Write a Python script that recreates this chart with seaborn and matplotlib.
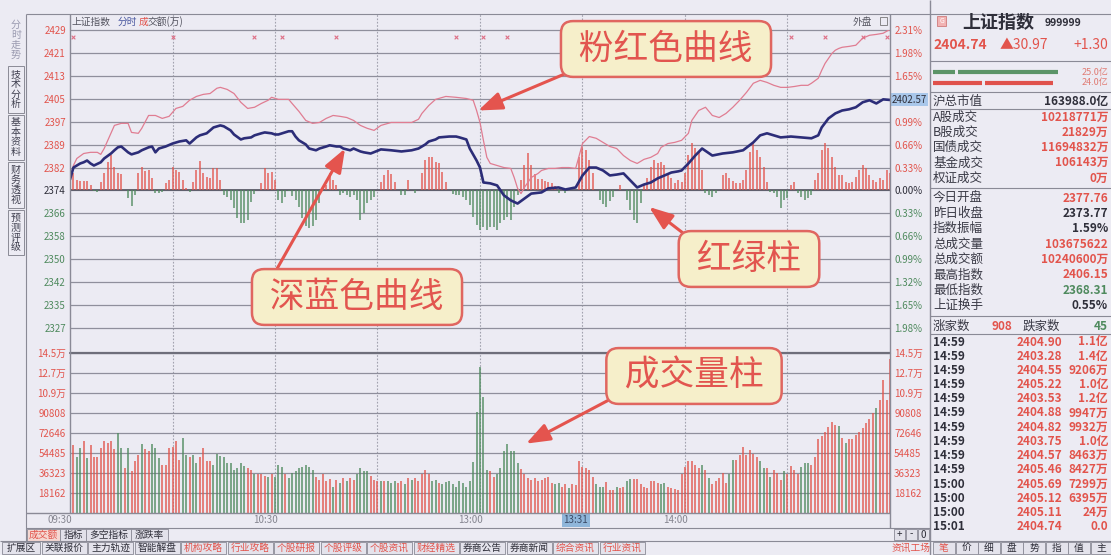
import pandas as pd
import matplotlib
matplotlib.use("Agg")
import matplotlib.pyplot as plt
from matplotlib.patches import Rectangle
from matplotlib.transforms import ScaledTranslation, blended_transform_factory
import seaborn as sns

# 1. 数据
prev_close = 2373.77
pct_step = 0.0033
price_steps = list(range(-6, 8))
vol_axis_max = 145293
vol_steps = 8

# 深蓝色曲线 (加权指数)
blue_min = [0, 1, 2, 3, 4, 5, 6, 7, 9, 10, 12, 13, 14, 15, 17, 18, 20, 21, 23, 24, 25, 26, 28, 30,
            32, 34, 35, 37, 38, 40, 41, 42, 44, 45, 47, 48, 50, 51, 53, 54, 56, 57, 59, 60, 61, 64,
            65, 66, 67, 69, 70, 72, 73, 75, 76, 78, 79, 80, 82, 83, 85, 86, 88, 91, 94, 97, 100,
            102, 104, 105, 107, 108, 111, 113, 114, 116, 117, 119, 120, 121, 123, 125, 127, 129,
            131, 133, 135, 138, 140, 143, 145, 148, 150, 152, 154, 156, 158, 160, 162, 164, 166,
            168, 170, 172, 174, 176, 178, 179, 181, 183, 185, 188, 191, 194, 197, 200, 202, 204,
            206, 208, 211, 214, 217, 219, 220, 222, 224, 226, 228, 230, 232, 234, 236, 238, 240]
blue_val = [2377.5, 2381.6, 2382.3, 2383.0, 2383.4, 2384.0, 2383.0, 2382.3, 2383.4, 2384.7, 2386.4,
            2387.5, 2388.5, 2388.8, 2386.8, 2386.1, 2386.8, 2387.5, 2388.5, 2388.8, 2386.8, 2388.1,
            2388.8, 2389.8, 2390.5, 2390.9, 2389.8, 2391.9, 2392.6, 2393.3, 2394.3, 2395.3, 2396.0,
            2395.7, 2394.3, 2392.9, 2391.2, 2391.6, 2391.9, 2392.6, 2393.3, 2393.6, 2393.3, 2392.9,
            2392.9, 2394.0, 2394.0, 2392.2, 2390.9, 2389.5, 2388.1, 2387.5, 2388.1, 2388.8, 2389.2,
            2388.8, 2388.8, 2388.1, 2387.5, 2388.1, 2387.1, 2386.8, 2386.4, 2387.8, 2387.5, 2387.1,
            2387.5, 2388.1, 2389.5, 2390.5, 2391.2, 2391.9, 2392.2, 2392.2, 2391.9, 2391.2, 2388.1,
            2384.0, 2381.6, 2376.5, 2376.2, 2375.5, 2372.1, 2370.4, 2369.3, 2371.0, 2372.7, 2373.1,
            2374.5, 2374.8, 2374.1, 2374.8, 2378.9, 2381.6, 2381.6, 2380.6, 2378.9, 2379.2, 2379.6,
            2377.2, 2374.8, 2375.8, 2376.5, 2377.9, 2378.9, 2379.9, 2380.3, 2380.6, 2383.0, 2385.7,
            2388.1, 2385.7, 2386.4, 2386.8, 2387.5, 2390.2, 2392.6, 2393.3, 2392.6, 2391.9, 2392.2,
            2391.9, 2391.6, 2392.6, 2395.3, 2398.4, 2400.1, 2401.1, 2401.5, 2402.2, 2403.9, 2404.6,
            2403.5, 2404.9, 2404.7]

# 粉红色曲线 (不含加权指数)
pink_min = [0, 1, 2, 4, 6, 8, 9, 10, 13, 15, 17, 18, 20, 21, 23, 25, 27, 29, 31, 33, 35, 37, 39, 41,
            43, 44, 46, 48, 50, 52, 54, 56, 58, 59, 61, 64, 65, 67, 69, 71, 73, 75, 77, 79, 81, 83,
            85, 87, 89, 91, 94, 97, 100, 102, 103, 105, 107, 110, 113, 116, 118, 119, 120, 121,
            122, 123, 125, 127, 129, 130, 131, 132, 133, 135, 137, 138, 140, 142, 144, 146, 148,
            150, 152, 154, 156, 158, 160, 162, 164, 166, 168, 170, 172, 173, 175, 177, 179, 181,
            182, 184, 186, 188, 190, 192, 194, 196, 198, 200, 202, 204, 206, 208, 210, 212, 214,
            216, 217, 219, 220, 221, 222, 223, 224, 225, 226, 228, 230, 232, 234, 236, 238, 240]
pink_val = [2377.5, 2382.3, 2384.7, 2386.4, 2386.8, 2386.8, 2386.1, 2388.1, 2396.0, 2396.7, 2396.7,
            2393.6, 2393.3, 2395.0, 2399.4, 2399.4, 2398.4, 2399.1, 2401.8, 2402.5, 2404.6, 2405.9,
            2406.6, 2406.9, 2408.7, 2409.0, 2408.3, 2406.9, 2403.9, 2401.8, 2402.2, 2403.5, 2404.6,
            2405.6, 2404.9, 2404.9, 2403.5, 2400.8, 2397.7, 2396.7, 2397.0, 2398.4, 2399.4, 2399.1,
            2398.7, 2397.7, 2396.0, 2395.0, 2394.3, 2396.0, 2397.0, 2397.0, 2397.0, 2398.1, 2400.1,
            2402.8, 2404.9, 2405.9, 2405.6, 2405.2, 2404.6, 2401.1, 2397.0, 2390.9, 2385.1, 2383.0,
            2382.3, 2381.6, 2381.3, 2378.2, 2374.5, 2372.7, 2374.8, 2378.2, 2379.6, 2380.6, 2381.3,
            2381.3, 2381.6, 2381.6, 2381.3, 2389.8, 2392.2, 2391.6, 2390.2, 2388.8, 2388.1, 2385.7,
            2384.0, 2383.0, 2384.4, 2385.1, 2386.4, 2388.5, 2389.8, 2390.2, 2390.9, 2393.3, 2397.7,
            2401.1, 2402.2, 2399.4, 2398.7, 2400.1, 2402.2, 2404.6, 2407.3, 2410.4, 2411.4, 2410.7,
            2409.7, 2409.0, 2409.0, 2409.3, 2409.7, 2409.7, 2410.4, 2412.1, 2414.8, 2417.2, 2418.9,
            2420.6, 2421.7, 2422.3, 2422.7, 2423.0, 2423.4, 2425.8, 2426.8, 2427.1, 2427.5, 2428.8]

# 红绿柱 (每分钟一根, 单位 = RG_UNIT 点)
RG_UNIT = 0.342
rg_units = [15, 17, 10, 9, 9, 9, 5, -1, -2, 8,
            17, 28, 35, 23, 17, 16, 0, -8, -16, -5,
            17, 23, 19, 20, 12, -3, -3, -2, 7, 10,
            23, 20, 18, 10, 2, -2, 8, 20, 29, 17,
            13, 12, 22, 22, 10, -5, -7, -10, -18, -28,
            -33, -33, -30, -12, -4, 0, 7, 22, 17, 18,
            10, -10, -13, -7, -1, -6, -10, -17, -28, -36,
            -38, -36, -30, -13, 0, 5, 17, 10, 5, -5,
            -3, -5, -7, -5, -10, -30, -23, -13, -10, -7,
            0, 8, 15, 20, 16, 8, 0, -5, -5, 10,
            0, -3, 0, 17, 30, 33, 33, 28, 27, 18,
            8, 0, -4, -5, -5, -7, -10, -15, -27, -35,
            -40, -37, -40, -37, -37, -40, -33, -30, -27, -30,
            -17, -5, 10, 25, 37, 25, 16, 11, 11, 9,
            8, 7, 4, -3, 2, -3, 2, 0, 0, 33,
            43, 40, 30, 17, 0, -10, -14, -17, -11, -7,
            0, 5, 0, -10, -20, -30, -33, -13, 5, 12,
            23, 30, 27, 28, 25, 17, 12, 7, 10, 8,
            17, 35, 47, 42, 38, 20, -3, -5, -7, -3,
            0, 15, 17, 12, 9, 7, 7, 10, 20, 38,
            47, 40, 33, 23, 8, -2, -3, -7, -18, -10,
            -8, 5, 8, -3, -7, -10, -8, -5, 10, 17,
            40, 47, 42, 33, 23, 15, 15, 8, 7, 8,
            13, 20, 25, 22, 15, 10, 8, 12, 10, 20, 17]

# 成交量柱 (千)
vol_k = [98, 62, 51, 59, 65, 50, 62, 51, 51, 59,
         65, 64, 65, 58, 73, 59, 41, 59, 38, 47,
         53, 63, 58, 56, 63, 59, 50, 44, 44, 59,
         60, 65, 48, 68, 53, 51, 53, 45, 51, 59,
         47, 47, 44, 54, 52, 51, 45, 45, 39, 41,
         45, 43, 41, 39, 35, 35, 35, 34, 33, 35,
         33, 44, 42, 35, 32, 36, 38, 41, 42, 44,
         42, 39, 33, 30, 35, 29, 31, 24, 30, 27,
         32, 29, 32, 30, 35, 41, 38, 38, 34, 30,
         29, 29, 29, 29, 27, 29, 27, 29, 26, 32,
         30, 32, 29, 35, 39, 35, 29, 30, 27, 26,
         28, 29, 26, 24, 29, 27, 24, 29, 46, 92,
         133, 105, 39, 38, 33, 35, 41, 56, 63, 56,
         56, 45, 40, 35, 32, 30, 32, 29, 30, 32,
         33, 27,
         26, 27, 24, 26, 23, 26, 25, 47, 42, 41,
         39, 33, 26, 24, 24, 28, 21, 21, 24, 23,
         24, 29, 31, 31, 31, 26, 24, 23, 29, 29,
         27, 26, 27, 24, 23, 22, 21, 35, 42, 47,
         47, 44, 41, 44, 39, 32, 26, 29, 32, 36,
         27, 35, 48, 48, 53, 60, 53, 57, 54, 51,
         47, 41, 41, 33, 39, 36, 30, 38, 35, 43,
         39, 35, 42, 45, 45, 44, 51, 67, 70, 74,
         78, 83, 80, 79, 68, 64, 67, 67, 71, 74,
         77, 82, 85, 91, 95, 103, 121, 103, 140]
vol_dir = ("rrggrgrrrr" "rrrrggrgrr" "rgrrgggrrr" "rrrggrggrr" "rrgggggggg"
           "ggrrgrrrgr" "gggrgggggg" "ggrrrrrgrg" "rgrrggggrr" "rgrgggrrgr"
           "grrrrrggrg" "gggggggggg" "gggrrggggg" "ggrrrrrrrr" "rr"
           "ggrrgrrrrr" "rrgggrrrgr" "rggrrrrrrr" "rggrrrrrrr" "rrrgrgrrrr"
           "rggrrrrrrr" "ggrgrrrgrr" "rrgggrrrrr" "rrrgrgrrrr" "rrrrgrrrr")

event_min = [1, 30, 54, 62, 78, 113, 121, 128, 211, 221, 232, 239]
time_ticks = [0, 60, 120, 180]
time_labels = ["09:30", "10:30", "13:00", "14:00"]
cursor_min, cursor_label = 151, "13:31"
cursor_price_label = "2402.57"

# 右侧行情栏
index_name, index_code = "上证指数", "999999"
index_last, index_chg, index_chg_pct = "2404.74", "▲30.97", "+1.30"
outer_vol, inner_vol = 25.0, 24.0
mkt_label, mkt_value = "沪总市值", "163988.0亿"
turnover_labels = ["A股成交", "B股成交", "国债成交", "基金成交", "权证成交"]
turnover_values = ["10218771万", "21829万", "11694832万", "106143万", "0万"]
stat_labels = ["今日开盘", "昨日收盘", "指数振幅", "总成交量", "总成交额", "最高指数", "最低指数", "上证换手"]
stat_values = ["2377.76", "2373.77", "1.59%", "103675622", "10240600万", "2406.15", "2368.31", "0.55%"]
stat_tone = ["r", "k", "k", "r", "r", "r", "g", "k"]
up_count, down_count = "908", "45"
tick_times = ["14:59"] * 10 + ["15:00"] * 3 + ["15:01"]
tick_prices = ["2404.90", "2403.28", "2404.55", "2405.22", "2403.53", "2404.88", "2404.82",
               "2403.75", "2404.57", "2405.46", "2405.69", "2405.12", "2405.11", "2404.74"]
tick_vols = ["1.1亿", "1.4亿", "9206万", "1.0亿", "1.2亿", "9947万", "9932万",
             "1.0亿", "8463万", "8427万", "7299万", "6395万", "24万", "0.0"]

left_tabs = ["分时走势", "技术分析", "基本资料", "财务透视", "预测评级"]
sub_tabs = ["成交额", "指标", "多空指标", "涨跌率"]
bottom_tabs = ["扩展区", "关联报价", "主力轨迹", "智能解盘", "机构攻略", "行业攻略", "个股研报",
               "个股评级", "个股资讯", "财经精选", "券商公告", "券商新闻", "综合资讯", "行业资讯"]
bottom_tab_red = [False, False, False, False, True, True, True, True, True, True, False, False, True, True]
side_tabs = ["笔", "价", "细", "盘", "势", "指", "值", "主"]

# 2. 样式
sns.set_theme(style="white")
plt.rcParams["font.family"] = ["Noto Sans CJK SC", "DejaVu Sans"]
plt.rcParams["axes.unicode_minus"] = False

W, H = 1111, 555
BG = "#ecebf3"
RED = "#e2544c"
GREEN = "#4f8a5e"
DARK = "#2f2f3a"
GRID = "#8f8f9c"
FRAME = "#8a8a96"
BLUE = "#2c2d78"
PINK = "#e07d92"
TONE = {"r": RED, "g": GREEN, "k": DARK}

fig = plt.figure(figsize=(W / 100, H / 100), dpi=100, facecolor=BG)


def box(l, t, r, b):
    return [l / W, 1 - b / H, (r - l) / W, (b - t) / H]


X0, X1 = 70, 890
bg = fig.add_axes(box(X0, 14, X1, 513), zorder=-1)
ax_p = fig.add_axes(box(X0, 30, X1, 328))
ax_v = fig.add_axes(box(X0, 353, X1, 513))
ov = fig.add_axes([0, 0, 1, 1], zorder=10)
ov.set_xlim(0, W)
ov.set_ylim(H, 0)
ov.axis("off")
for a in (bg, ax_p, ax_v):
    a.set_facecolor("none")
    a.set_xlim(0, 240)

# 竖向网格 (每半小时)
bg.axis("off")
bg.vlines(list(range(30, 240, 30)), 0, 1, transform=bg.get_xaxis_transform(),
          colors="#a2a2ae", lw=0.8, linestyles=(0, (1.5, 1.5)))

# 3. 分时图
levels = [prev_close * (1 + pct_step * k) for k in price_steps]
ax_p.set_ylim(levels[0], levels[-1])

minutes = list(range(len(rg_units)))
rg_df = pd.DataFrame({"minute": minutes, "h": [u * RG_UNIT for u in rg_units]})
ax_p.vlines(rg_df["minute"], prev_close, prev_close + rg_df["h"],
            colors=[RED if h > 0 else GREEN for h in rg_df["h"]], lw=1.1, alpha=0.9)

df_pink = pd.DataFrame({"minute": pink_min, "price": pink_val})
df_blue = pd.DataFrame({"minute": blue_min, "price": blue_val})
sns.lineplot(data=df_pink, x="minute", y="price", ax=ax_p, color=PINK, linewidth=0.9, estimator=None)
sns.lineplot(data=df_blue, x="minute", y="price", ax=ax_p, color=BLUE, linewidth=1.9, estimator=None)
step_price = prev_close * pct_step
sns.scatterplot(x=event_min, y=[levels[-1] - 0.3 * step_price] * len(event_min), ax=ax_p,
                marker="x", s=7, color="#df6f86", linewidth=0.8, zorder=3)

ax_p.set_xlabel("")
ax_p.set_ylabel("")
ax_p.set_xticks([])
ax_p.set_yticks(levels)
ax_p.set_yticklabels([f"{v:.0f}" for v in levels])
ax_p.tick_params(axis="y", length=0, pad=3, labelsize=7)
ax_p.grid(axis="y", color=GRID, lw=0.9)
ax_p.set_axisbelow(True)
ax_p.axhline(prev_close, color="#5c5c68", lw=1.3, zorder=1)
for lbl, k in zip(ax_p.get_yticklabels(), price_steps):
    lbl.set_color(RED if k > 0 else (DARK if k == 0 else GREEN))

# 右侧百分比刻度; 光标价格标签盖住的那一格不显示
tag_idx = min(range(len(levels)), key=lambda i: abs(levels[i] - blue_val[-1]))
pct_text = [f"{abs(k) * pct_step * 100:.2f}%" for k in price_steps]
pct_text[tag_idx] = ""
ax_pr = ax_p.twinx()
ax_pr.set_ylim(ax_p.get_ylim())
ax_pr.set_yticks(levels)
ax_pr.set_yticklabels(pct_text)
ax_pr.tick_params(axis="y", length=0, pad=3, labelsize=7)
for lbl, k in zip(ax_pr.get_yticklabels(), price_steps):
    lbl.set_color(RED if k > 0 else (DARK if k == 0 else GREEN))
for a in (ax_p, ax_pr):
    for s in a.spines.values():
        s.set_visible(False)
for gl in ax_p.get_ygridlines():
    gl.set_clip_on(False)

ax_pr.text(1.002, blue_val[-1], cursor_price_label,
           transform=blended_transform_factory(ax_pr.transAxes, ax_pr.transData),
           ha="left", va="center", fontsize=7, color=DARK,
           bbox=dict(boxstyle="square,pad=0.15", fc="#a9c7ea", ec="none"))

# 4. 成交量
vol_step = vol_axis_max / vol_steps
vol_levels = [vol_step * i for i in range(1, vol_steps + 1)]
vols = [v * 1000 for v in vol_k]
ax_v.set_ylim(0, vol_axis_max)
ax_v.vlines(list(range(len(vols))), 0, vols, colors=[RED if c == "r" else GREEN for c in vol_dir],
            lw=1.2, alpha=0.85)
vol_text = [f"{v / 10000:.1f}万" if v >= 100000 else f"{v:.0f}" for v in vol_levels]
ax_v.set_yticks(vol_levels)
ax_v.set_yticklabels(vol_text)
ax_v.set_xticks([])
ax_v.tick_params(axis="y", length=0, pad=3, labelsize=7, labelcolor=RED)
ax_v.grid(axis="y", color=GRID, lw=0.9)
for gl in ax_v.get_ygridlines():
    gl.set_clip_on(False)
ax_vr = ax_v.twinx()
ax_vr.set_ylim(0, vol_axis_max)
ax_vr.set_yticks(vol_levels)
ax_vr.set_yticklabels(vol_text)
ax_vr.tick_params(axis="y", length=0, pad=3, labelsize=7, labelcolor=RED)
for a in (ax_v, ax_vr):
    for s in a.spines.values():
        s.set_visible(False)
ax_v.axhline(vol_axis_max, color="#6e6e7a", lw=1.6, clip_on=False)

# 时间轴
shift = ScaledTranslation(-10 / 100, 0, fig.dpi_scale_trans)
t_tr = blended_transform_factory(ax_v.transData, ax_v.transAxes) + shift
for m, lab in zip(time_ticks, time_labels):
    ax_v.text(m, -0.045, lab, transform=t_tr, ha="center", va="center", fontsize=7, color="#858590")
ax_v.text(cursor_min, -0.045, cursor_label, transform=t_tr, ha="center", va="center", fontsize=7,
          color="#3a4a66", bbox=dict(boxstyle="square,pad=0.2", fc="#8fb6da", ec="none"))


# 5. 界面框架
def hl(y, x0, x1, c=FRAME, lw=0.8):
    ov.plot([x0, x1], [y, y], color=c, lw=lw, solid_capstyle="butt")


def vl(x, y0, y1, c=FRAME, lw=0.8):
    ov.plot([x, x], [y0, y1], color=c, lw=lw, solid_capstyle="butt")


def txt(x, y, s, **kw):
    kw.setdefault("va", "center")
    ov.text(x, y, s, **kw)


hl(14, 26, 1111)
hl(513, 26, 890, lw=1.0)
hl(528, 26, 930)
hl(541, 0, 1111)
vl(26, 14, 541)
vl(X0, 14, 513, lw=1.0)
vl(X1, 14, 528, lw=1.0)
vl(930, 0, 555, lw=1.0)

# 标题行
txt(72, 22, "上证指数", fontsize=7, color="#555560")
txt(118, 22, "分时", fontsize=7, color="#4a58a0")
txt(139, 22, "成", fontsize=7, color=RED)
txt(148, 22, "交额(万)", fontsize=7, color="#555560")
txt(853, 22, "外盘", fontsize=7, color="#555560")
ov.add_patch(Rectangle((880, 17), 7, 8, fc="none", ec="#777", lw=0.6))

# 左侧竖向标签
tab_y = [(16, 64), (66, 113), (115, 160), (162, 208), (210, 255)]
for i, (name, (t, b)) in enumerate(zip(left_tabs, tab_y)):
    if i > 0:
        ov.add_patch(Rectangle((8, t), 16, b - t, fc="none", ec="#8a8a96", lw=0.7))
    txt(16, (t + b) / 2, "\n".join(name), ha="center", fontsize=7.2, linespacing=1.0,
        color="#9a9ab0" if i == 0 else "#404050")

# 副图标签
sub_x = [(27, 60), (60, 86), (86, 131), (131, 168)]
for i, (name, (a, b)) in enumerate(zip(sub_tabs, sub_x)):
    ov.add_patch(Rectangle((a, 529), b - a, 12, fc="#f5d8d2" if i == 0 else "#e2e1ea", ec="#8a8a96", lw=0.6))
    txt((a + b) / 2, 535, name, ha="center", fontsize=7, color=RED if i == 0 else DARK)
for j, sym in enumerate(["+", "-", "0"]):
    ov.add_patch(Rectangle((894 + j * 12, 529), 11, 11, fc="#e2e1ea", ec="#8a8a96", lw=0.6))
    txt(899.5 + j * 12, 534.5, sym, ha="center", fontsize=7, color=DARK)

# 底部功能栏
bx = 2
for name, red in zip(bottom_tabs, bottom_tab_red):
    wdt = 38 if len(name) == 3 else 45
    ov.add_patch(Rectangle((bx, 542), wdt, 12, fc="#e4e3ec", ec="#8a8a96", lw=0.6))
    txt(bx + wdt / 2, 548, name, ha="center", fontsize=7, color=RED if red else DARK)
    bx += wdt + 1.5
txt(911, 548, "资讯工场", ha="center", fontsize=7, color=RED)
for j, name in enumerate(side_tabs):
    cx = 944 + j * 22.5
    ov.add_patch(Rectangle((cx - 11, 542), 22, 12, fc="#e4e3ec", ec="#8a8a96", lw=0.6))
    txt(cx, 548, name, ha="center", fontsize=7, color=RED if j == 0 else DARK)

# 6. 右侧行情栏
L, R = 933, 1108
ov.add_patch(Rectangle((937, 16), 9, 10, fc="#f2b3b3", ec="#cf7b7b", lw=0.6))
txt(941.5, 21, "G", ha="center", fontsize=5, color="white")
txt(962, 22, index_name, fontsize=13, fontweight="bold", color=DARK)
txt(1045, 23, index_code, fontsize=7.5, fontweight="bold", color=DARK)
txt(L, 45, index_last, fontsize=10, fontweight="bold", color=RED)
txt(1000, 45, index_chg, fontsize=10, color=RED)
txt(R, 45, index_chg_pct, ha="right", fontsize=10, color=RED)
for yy in (61, 92, 109, 188, 316, 334):
    hl(yy, 930, 1111)
bar_full = 125 / max(outer_vol, inner_vol)
for yy, val, split, col in ((72, outer_vol, 955, "#5b9468"), (83, inner_vol, 982, "#e0524c")):
    end = L + val * bar_full
    ov.plot([L, split], [yy, yy], color=col, lw=3, solid_capstyle="butt")
    ov.plot([split + 3, end], [yy, yy], color=col, lw=3, solid_capstyle="butt")
    txt(R, yy, f"{val:.1f}亿", ha="right", fontsize=6.5, color="#e07a72")
txt(L, 101, mkt_label, fontsize=9, color="#3a3a46")
txt(R, 101, mkt_value, ha="right", fontsize=8.5, fontweight="bold", color=DARK)
for i, (lab, val) in enumerate(zip(turnover_labels, turnover_values)):
    y = 117 + i * 15.3
    txt(L, y, lab, fontsize=9, color="#3a3a46")
    txt(R, y, val, ha="right", fontsize=8.5, fontweight="bold", color=RED)
for i, (lab, val, tone) in enumerate(zip(stat_labels, stat_values, stat_tone)):
    y = 198 + i * 15.4
    txt(L, y, lab, fontsize=9, color="#3a3a46")
    txt(R, y, val, ha="right", fontsize=8.5, fontweight="bold", color=TONE[tone])
txt(L, 326, "涨家数", fontsize=9, color="#3a3a46")
txt(1002, 326, up_count, ha="center", fontsize=8.5, fontweight="bold", color=RED)
txt(1023, 326, "跌家数", fontsize=9, color="#3a3a46")
txt(R, 326, down_count, ha="right", fontsize=8.5, fontweight="bold", color=GREEN)
for i, (t, p, v) in enumerate(zip(tick_times, tick_prices, tick_vols)):
    y = 342 + i * 14.2
    txt(L, y, t, fontsize=8.5, fontweight="bold", color=DARK)
    txt(1062, y, p, ha="right", fontsize=8.5, fontweight="bold", color=RED)
    txt(R, y, v, ha="right", fontsize=8.5, fontweight="bold", color=RED)

# 7. 标注
ARROW = "#e4544e"
callouts = [
    (" 粉红色曲线 ", (666, 49), ax_p.transData, (119.5, pink_val[pink_min.index(119)]), (0.08, 0.05)),
    (" 深蓝色曲线 ", (357, 297), ax_p.transData, (80.5, blue_val[blue_min.index(80)]), (0.04, 0.95)),
    (" 红绿柱 ", (749, 259), ax_p.transData, (169.5, prev_close + rg_units[166] * RG_UNIT / 2), (0.06, 0.95)),
    (" 成交量柱 ", (694, 376), ax_v.transData, (133.5, vols[128]), (0.05, 0.05)),
]
for text, (cx, cy), tr, xy, rel in callouts:
    ov.annotate(text, xy=xy, xycoords=tr, xytext=(cx, cy), textcoords="data",
                ha="center", va="center", fontsize=25, color="#e2554f", annotation_clip=False,
                bbox=dict(boxstyle="round,pad=0.3,rounding_size=0.35", fc="#f6efca", ec="#e06660", lw=1.8),
                arrowprops=dict(arrowstyle="-|>,head_length=0.8,head_width=0.3", color=ARROW, lw=2.2,
                                mutation_scale=18, shrinkA=0, shrinkB=0, relpos=rel))

fig.savefig("out.png", dpi=100, facecolor=BG)
print("saved out.png")
